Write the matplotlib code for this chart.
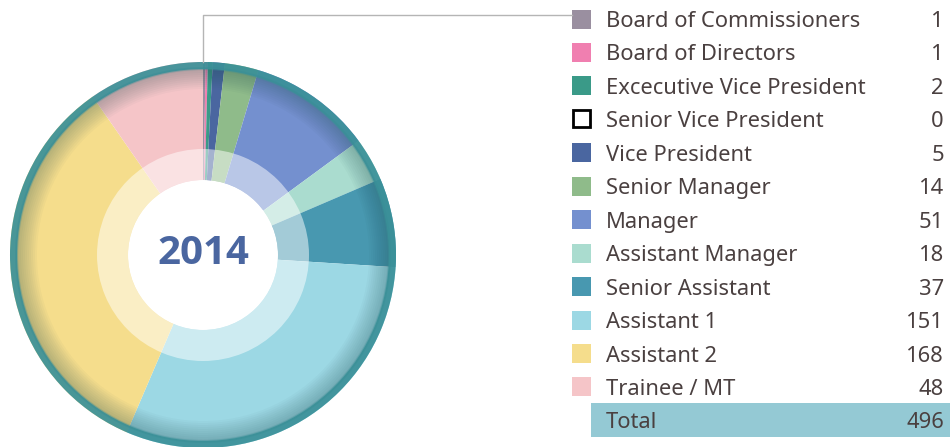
import matplotlib
matplotlib.use("Agg")
import matplotlib.pyplot as plt
from matplotlib.patches import Circle, Wedge, Rectangle
import numpy as np

categories = ["Board of Commissioners", "Board of Directors", "Excecutive Vice President",
              "Senior Vice President", "Vice President", "Senior Manager", "Manager",
              "Assistant Manager", "Senior Assistant", "Assistant 1", "Assistant 2",
              "Trainee / MT"]
values = [1, 1, 2, 0, 5, 14, 51, 18, 37, 151, 168, 48]
total_label = "Total"
total_value = 496
year_label = "2014"

colors = ["#9a8fa0", "#f07fb0", "#3a9a88", "#ffffff", "#4a66a0", "#8fbb8a",
          "#7490cf", "#aadccf", "#4898b0", "#9cd8e4", "#f5dd8c", "#f5c5c8"]

W, H = 950, 447
fig = plt.figure(figsize=(W / 100, H / 100), dpi=100)
ax = fig.add_axes([0, 0, 1, 1])

cx, cy = 203, H - 255
R = 193

ax.pie(values, colors=colors, startangle=90, counterclock=False,
       center=(cx, cy), radius=R, wedgeprops=dict(linewidth=0))

# soft shading towards rim
for r0 in range(166, 188, 2):
    ax.add_patch(Wedge((cx, cy), 188, 0, 360, width=188 - r0, facecolor="#1d4a4e",
                       alpha=0.03, linewidth=0))
# rim
ax.add_patch(Wedge((cx, cy), R, 0, 360, width=7, facecolor="#3a9098",
                   alpha=0.92, linewidth=0))
ax.add_patch(Wedge((cx, cy), 187, 0, 360, width=2, facecolor="#3a9098",
                   alpha=0.4, linewidth=0))
# light inner ring
ax.add_patch(Wedge((cx, cy), 106, 0, 360, width=31, facecolor="white",
                   alpha=0.5, linewidth=0))
# center hole
ax.add_patch(Circle((cx, cy), 75, facecolor="white", linewidth=0))

ax.text(cx, cy + 2, year_label, ha="center", va="center", fontsize=29,
        fontweight="bold", color="#4a66a0", family="Open Sans")

# leader line
ax.plot([cx, cx, 572], [cy + R, H - 15, H - 15], color="#b5b5b5", lw=1)

# legend table
text_color = "#4a4040"
fs = 15.8
row0 = 19
step = 33.45
sq = 19
for i, (cat, val, col) in enumerate(zip(categories, values, colors)):
    y = H - (row0 + i * step)
    if col == "#ffffff":
        ax.add_patch(Rectangle((573, y - 8), 17, 17, facecolor="white",
                               edgecolor="black", linewidth=2))
    else:
        ax.add_patch(Rectangle((572, y - sq / 2), sq, sq, facecolor=col,
                               edgecolor="none"))
    ax.text(606, y, cat, ha="left", va="center_baseline", fontsize=fs,
            color=text_color, family="Noto Sans")
    ax.text(944, y, str(val), ha="right", va="center_baseline", fontsize=fs,
            color=text_color, family="Noto Sans")

yt = H - (row0 + len(categories) * step)
ax.add_patch(Rectangle((591, H - 437), W - 591, 34, facecolor="#94c9d4",
                       edgecolor="none"))
ax.text(606, yt, total_label, ha="left", va="center_baseline", fontsize=fs,
        color=text_color, family="Noto Sans")
ax.text(944, yt, str(total_value), ha="right", va="center_baseline", fontsize=fs,
        color=text_color, family="Noto Sans")

ax.set_xlim(0, W)
ax.set_ylim(0, H)
ax.set_aspect("auto")
ax.axis("off")
fig.savefig("out.png", dpi=100)
